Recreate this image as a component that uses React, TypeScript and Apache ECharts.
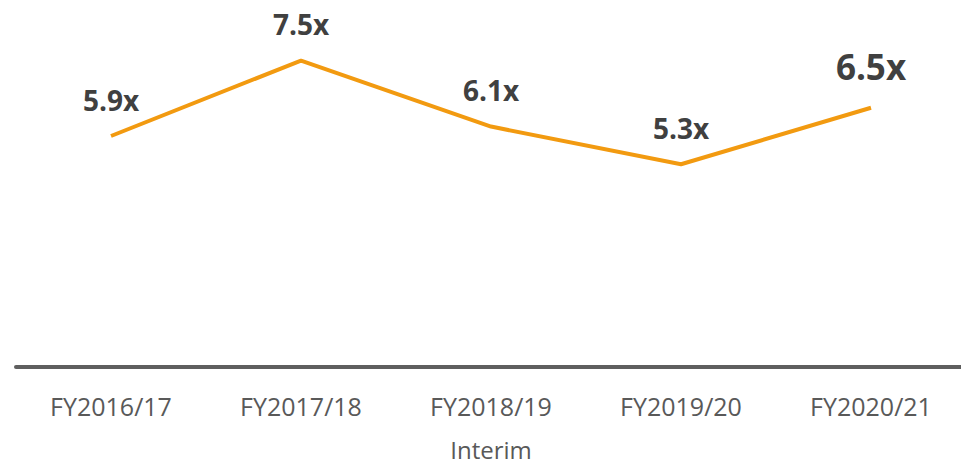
import React, { useEffect, useRef } from "react";
import * as echarts from "echarts";

const categories = ["FY2016/17", "FY2017/18", "FY2018/19", "FY2019/20", "FY2020/21"];
const values = [5.9, 7.5, 6.1, 5.3, 6.5];
const axisName = "Interim";

export default function App() {
  const ref = useRef<HTMLDivElement>(null);
  useEffect(() => {
    if (!ref.current) return;
    const chart = echarts.init(ref.current, undefined, { renderer: "svg" });
    const last = values.length - 1;
    chart.setOption({
      animation: false,
      grid: { left: 16, width: 950, top: 37, bottom: 100, outerBoundsMode: "none", containLabel: false },
      xAxis: {
        type: "category",
        data: categories,
        boundaryGap: true,
        axisLine: { lineStyle: { color: "#5f5f5f", width: 4 } },
        axisTick: { show: false },
        axisLabel: {
          color: "#595959",
          fontSize: 25,
          fontFamily: "Open Sans",
          margin: 26,
        },
        name: axisName,
        nameLocation: "middle",
        nameGap: 70,
        nameTextStyle: { color: "#595959", fontSize: 24, lineHeight: 24, fontFamily: "Open Sans" },
      },
      yAxis: {
        type: "value",
        min: 1,
        max: 8,
        show: false,
        splitLine: { show: false },
      },
      series: [
        {
          type: "line",
          data: values.map((v, i) =>
            i === last
              ? { value: v, label: { fontSize: 35, distance: 23 } }
              : v
          ),
          showSymbol: true,
          symbol: "circle",
          symbolSize: 1,
          itemStyle: { color: "rgba(0,0,0,0)" },
          lineStyle: { color: "#F29A10", width: 4 },
          label: {
            show: true,
            position: "top",
            distance: 22,
            formatter: (p: any) => `${Number(p.value).toFixed(1)}x`,
            color: "#404040",
            fontWeight: "bold",
            fontSize: 28,
            fontFamily: "Open Sans",
          },
        },
      ],
    });
    return () => chart.dispose();
  }, []);
  return (
    <div
      ref={ref}
      style={{ position: "absolute", left: 0, top: 0, width: 961, height: 467, background: "#fff" }}
    />
  );
}
